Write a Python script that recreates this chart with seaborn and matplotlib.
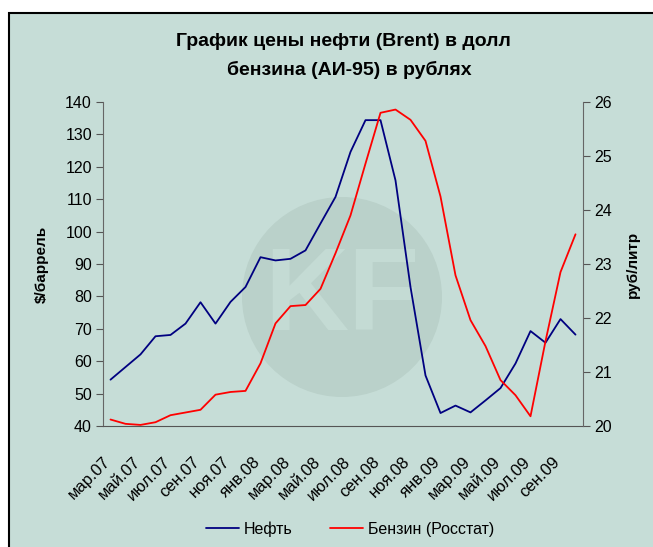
import numpy as np
import pandas as pd
import matplotlib
matplotlib.use("Agg")
import matplotlib.pyplot as plt
import matplotlib.transforms as mtransforms
import seaborn as sns
from matplotlib.patches import Rectangle, Ellipse
from matplotlib.lines import Line2D

# monthly data, Mar 2007 - Oct 2009
months = ['мар.07', 'апр.07', 'май.07', 'июн.07', 'июл.07', 'авг.07', 'сен.07', 'окт.07',
          'ноя.07', 'дек.07', 'янв.08', 'фев.08', 'мар.08', 'апр.08', 'май.08', 'июн.08',
          'июл.08', 'авг.08', 'сен.08', 'окт.08', 'ноя.08', 'дек.08', 'янв.09', 'фев.09',
          'мар.09', 'апр.09', 'май.09', 'июн.09', 'июл.09', 'авг.09', 'сен.09', 'окт.09']
brent = [54.3, 58.2, 62.1, 67.7, 68.1, 71.6, 78.2, 71.6, 78.3, 82.9, 92.1, 91.1, 91.6, 94.2,
         102.5, 110.7, 124.6, 134.4, 134.4, 115.8, 82.9, 55.6, 44.0, 46.3, 44.2, 47.9,
         51.7, 59.3, 69.3, 65.7, 73.0, 68.2]
petrol = [20.12, 20.04, 20.02, 20.07, 20.20, 20.25, 20.30, 20.58, 20.63, 20.65, 21.16, 21.90,
          22.22, 22.24, 22.54, 23.20, 23.90, 24.86, 25.80, 25.86, 25.67, 25.28, 24.25, 22.79,
          21.96, 21.48, 20.85, 20.57, 20.18, 21.57, 22.85, 23.55]

df = pd.DataFrame({'month': np.arange(len(months)), 'brent': brent, 'petrol': petrol})

bg = '#C6DDD7'
sns.set_style('white')
plt.rcParams['font.family'] = ['Liberation Sans', 'DejaVu Sans']
plt.rcParams['text.color'] = 'black'
plt.rcParams['xtick.color'] = 'black'
plt.rcParams['ytick.color'] = 'black'
plt.rcParams['axes.labelcolor'] = 'black'

fig = plt.figure(figsize=(6.53, 5.47), dpi=100)
fig.patch.set_facecolor('white')
W, H = 653, 547

# chart area background with frame on top/left
fig.patches.append(Rectangle((9 / W, -0.01), 1.0, (H - 12.5) / H + 0.01, transform=fig.transFigure,
                             facecolor=bg, edgecolor='black', linewidth=1.5, zorder=-3))

# watermark circle
fig.patches.append(Ellipse((342 / W, 1 - 297 / H), 200 / W, 200 / H, transform=fig.transFigure,
                           facecolor='#BAD1CA', edgecolor='none', zorder=-2))
fig.text(342 / W, 1 - 300 / H, 'KF', ha='center', va='center', fontsize=84, fontweight='bold',
         color='#C4DBD4', zorder=-1)

ax = fig.add_axes([103 / W, 1 - 426 / H, 480 / W, 324 / H])
ax.set_facecolor('none')
ax2 = ax.twinx()
ax2.set_facecolor('none')

sns.lineplot(data=df, x='month', y='brent', ax=ax, color='#000080', linewidth=1.3)
sns.lineplot(data=df, x='month', y='petrol', ax=ax2, color='#FF0000', linewidth=1.3)

ax.set_xlim(-0.5, len(months) - 0.5)
ax.set_ylim(40, 140)
ax.set_yticks(range(40, 141, 10))
ax2.set_ylim(20, 26)
ax2.set_yticks(range(20, 27))

# tick marks between category pairs, labels every second month
ax.set_xticks(np.arange(-0.5, len(months), 2))
ax.set_xticklabels([])
ax.set_xticks(np.arange(0, len(months), 2), minor=True)
ax.set_xticklabels(months[::2], minor=True, rotation=45, ha='right', va='top',
                   rotation_mode='anchor', fontsize=12)
ax.tick_params(axis='x', which='minor', length=0, pad=20)
ax.tick_params(axis='x', which='major', length=5, direction='out', color='#333333', width=1)
ax.tick_params(axis='y', length=5, direction='out', color='#555555', labelsize=11.5, pad=3)
ax2.tick_params(axis='y', length=5, direction='out', color='#555555', labelsize=11.5, pad=3)
shift = mtransforms.ScaledTranslation(-8 / 100, 0, fig.dpi_scale_trans)
for lab in ax.get_xticklabels(minor=True):
    lab.set_transform(lab.get_transform() + shift)

for a in (ax, ax2):
    for s in a.spines.values():
        s.set_visible(False)
ax.spines['left'].set_visible(True)
ax.spines['left'].set_color('#666666')
ax.spines['bottom'].set_visible(True)
ax.spines['bottom'].set_color('#555555')
ax2.spines['right'].set_visible(True)
ax2.spines['right'].set_color('#666666')

ax.set_xlabel('')
ax.set_ylabel('$/баррель', fontsize=11, fontweight='bold', labelpad=12)
ax2.set_ylabel('руб/литр', fontsize=11, fontweight='bold', labelpad=10)

fig.text(343 / W, 1 - 42 / H, 'График цены нефти (Brent) в долл', ha='center', va='center',
         fontsize=14, fontweight='bold')
fig.text(349 / W, 1 - 70 / H, 'бензина (АИ-95) в рублях', ha='center', va='center',
         fontsize=14, fontweight='bold')

handles = [Line2D([], [], color='#000080', linewidth=1.3),
           Line2D([], [], color='#FF0000', linewidth=1.3)]
fig.legend(handles, ['Нефть', 'Бензин (Росстат)'], loc='center', ncol=2,
           bbox_to_anchor=(350 / W, 1 - 529 / H), frameon=False, fontsize=11.5,
           handlelength=2.1, columnspacing=2.3, handletextpad=0.3)

fig.savefig('out.png', dpi=100, facecolor=fig.get_facecolor())
